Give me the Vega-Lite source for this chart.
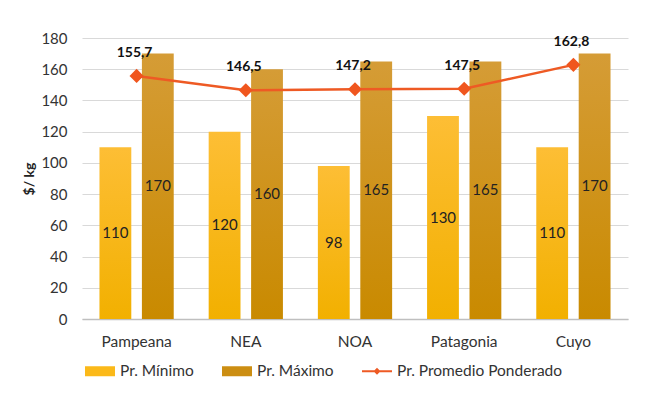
{
  "$schema": "https://vega.github.io/schema/vega-lite/v6.json",
  "autosize": "none",
  "width": 546,
  "height": 281,
  "padding": {"left": 82, "top": 38, "right": 22, "bottom": 80},
  "background": "white",
  "config": {
    "font": "Lato",
    "view": {"stroke": null},
    "locale": {"number": {"decimal": ",", "thousands": ".", "grouping": [3], "currency": ["$", ""]}},
    "axis": {"labelFont": "Lato", "labelColor": "#333333", "titleFont": "Lato"}
  },
  "data": {
    "values": [
      {"region": "Pampeana", "series": "Pr. Mínimo", "value": 110},
      {"region": "Pampeana", "series": "Pr. Máximo", "value": 170},
      {"region": "Pampeana", "series": "Pr. Promedio Ponderado", "value": 155.7},
      {"region": "NEA", "series": "Pr. Mínimo", "value": 120},
      {"region": "NEA", "series": "Pr. Máximo", "value": 160},
      {"region": "NEA", "series": "Pr. Promedio Ponderado", "value": 146.5},
      {"region": "NOA", "series": "Pr. Mínimo", "value": 98},
      {"region": "NOA", "series": "Pr. Máximo", "value": 165},
      {"region": "NOA", "series": "Pr. Promedio Ponderado", "value": 147.2},
      {"region": "Patagonia", "series": "Pr. Mínimo", "value": 130},
      {"region": "Patagonia", "series": "Pr. Máximo", "value": 165},
      {"region": "Patagonia", "series": "Pr. Promedio Ponderado", "value": 147.5},
      {"region": "Cuyo", "series": "Pr. Mínimo", "value": 110},
      {"region": "Cuyo", "series": "Pr. Máximo", "value": 170},
      {"region": "Cuyo", "series": "Pr. Promedio Ponderado", "value": 162.8}
    ]
  },
  "encoding": {
    "x": {
      "field": "region",
      "type": "nominal",
      "sort": ["Pampeana", "NEA", "NOA", "Patagonia", "Cuyo"],
      "scale": {"paddingInner": 0.32, "paddingOuter": 0.16},
      "axis": {"title": null, "labelAngle": 0, "ticks": false, "labelPadding": 15, "labelFontSize": 15.5, "domainColor": "#bfbfbf", "domainWidth": 1.5}
    },
    "y": {
      "field": "value", "type": "quantitative",
      "scale": {"domain": [0, 180], "nice": false},
      "axis": {"title": "$/ kg", "titleFontSize": 14, "titleFontWeight": "bold", "titleColor": "#222222", "titlePadding": 4,
        "values": [0, 20, 40, 60, 80, 100, 120, 140, 160, 180], "labelOverlap": false, "labelFontSize": 15,
        "ticks": false, "domain": false, "labelPadding": 15, "gridColor": "#d9d9d9", "gridWidth": 1.2}
    }
  },
  "layer": [
    {
      "transform": [{"filter": "datum.series === 'Pr. Mínimo'"}],
      "mark": {
        "type": "bar",
        "color": {"gradient": "linear", "x1": 0, "y1": 0, "x2": 0, "y2": 1,
          "stops": [{"offset": 0, "color": "#FDBE35"}, {"offset": 1, "color": "#F2B000"}]}
      },
      "encoding": {
        "xOffset": {"field": "series", "type": "nominal", "scale": {"domain": ["Pr. Mínimo", "Pr. Máximo"], "paddingInner": 0.25, "paddingOuter": 0}}
      }
    },
    {
      "transform": [{"filter": "datum.series === 'Pr. Máximo'"}],
      "mark": {
        "type": "bar",
        "color": {"gradient": "linear", "x1": 0, "y1": 0, "x2": 0, "y2": 1,
          "stops": [{"offset": 0, "color": "#D59C36"}, {"offset": 1, "color": "#C98A00"}]}
      },
      "encoding": {
        "xOffset": {"field": "series", "type": "nominal", "scale": {"domain": ["Pr. Mínimo", "Pr. Máximo"], "paddingInner": 0.25, "paddingOuter": 0}}
      }
    },
    {
      "transform": [
        {"filter": "datum.series !== 'Pr. Promedio Ponderado'"},
        {"calculate": "datum.value / 2", "as": "mid"}
      ],
      "mark": {"type": "text", "fontSize": 15, "color": "#222222", "baseline": "middle"},
      "encoding": {
        "xOffset": {"field": "series", "type": "nominal", "scale": {"domain": ["Pr. Mínimo", "Pr. Máximo"], "paddingInner": 0.25, "paddingOuter": 0}},
        "y": {"field": "mid", "type": "quantitative"},
        "text": {"field": "value", "type": "quantitative", "format": "d"}
      }
    },
    {
      "transform": [{"filter": "datum.series === 'Pr. Promedio Ponderado'"}],
      "mark": {"type": "line", "strokeWidth": 2.5},
      "encoding": {
        "color": {
          "field": "series", "type": "nominal",
          "scale": {"domain": ["Pr. Mínimo", "Pr. Máximo", "Pr. Promedio Ponderado"], "range": ["#FBB919", "#CC8E12", "#EE5A24"]},
          "legend": {
            "title": null, "orient": "none", "direction": "horizontal", "legendX": 3, "legendY": 323,
            "labelFontSize": 15.5, "labelColor": "#333333", "labelFont": "Lato", "labelLimit": 300,
            "symbolSize": 400, "columnPadding": 28, "labelOffset": 15,
            "encode": {
              "symbols": {
                "update": {
                  "shape": {"signal": "datum.value === 'Pr. Promedio Ponderado' ? 'M-1.5,-0.1H1.5V0.1H-1.5Z M0,-0.35L0.35,0L0,0.35L-0.35,0Z' : 'M-1.5,-0.5H1.5V0.5H-1.5Z'"},
                  "fill": {"scale": "color", "field": "value"},
                  "strokeWidth": {"value": 0},
                  "opacity": {"value": 1},
                  "xc": {"value": 15}
                }
              }
            }
          }
        }
      }
    },
    {
      "transform": [{"filter": "datum.series === 'Pr. Promedio Ponderado'"}],
      "mark": {"type": "point", "shape": "diamond", "filled": true, "size": 200, "color": "#F0561E", "opacity": 1}
    },
    {
      "transform": [{"filter": "datum.series === 'Pr. Promedio Ponderado'"}],
      "mark": {"type": "text", "fontSize": 14, "fontWeight": "bold", "color": "#111111", "dy": -23, "dx": -2, "baseline": "middle"},
      "encoding": {
        "text": {"field": "value", "type": "quantitative", "format": ".1f"}
      }
    }
  ]
}
